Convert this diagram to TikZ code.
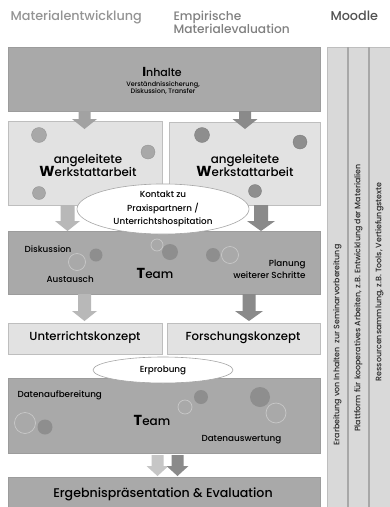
\documentclass[tikz,border=0pt]{standalone}
\usepackage{fontspec}
\setmainfont{Poppins}[UprightFont=* Medium, BoldFont=* Bold]
\usetikzlibrary{shapes.geometric}
\definecolor{boxdark}{HTML}{A9A9A9}
\definecolor{boxdarkline}{HTML}{9C9C9C}
\definecolor{boxlight}{HTML}{E2E2E2}
\definecolor{boxlightline}{HTML}{BEBEBE}
\definecolor{arrlight}{HTML}{B8B8B8}
\definecolor{arrmid}{HTML}{A2A2A2}
\definecolor{arrdark}{HTML}{8A8A8A}
\definecolor{circmid}{HTML}{A8A8A8}
\definecolor{circdark}{HTML}{8E8E8E}
\definecolor{circline}{HTML}{C8C8C8}
\definecolor{moodlefill}{HTML}{D9D9D9}
\definecolor{moodleline}{HTML}{A8A8A8}
\tikzset{
  darkbox/.style={fill=boxdark, draw=boxdarkline, line width=0.8pt},
  lightbox/.style={fill=boxlight, draw=boxlightline, line width=0.8pt},
  ovalbox/.style={ellipse, fill=white, draw=gray!70, line width=0.6pt, inner sep=0pt},
  hdr/.style={font=\fontsize{12.8}{14}\selectfont, align=left, anchor=west},
  small/.style={font=\fontsize{8.8}{11}\selectfont},
  strip/.style={rotate=90, font=\fontsize{7.9}{10}\selectfont, text=black!85},
  konz/.style={font=\fontsize{11.7}{13}\selectfont},
}
\newcommand\dnarrow[6]{% x, ytop, ybot, shaft half, head half, colour
  \fill[#6] (#1-#4,#2) -- (#1+#4,#2) -- (#1+#4,#3-10) -- (#1+#5,#3-10) -- (#1,#3)
    -- (#1-#5,#3-10) -- (#1-#4,#3-10) -- cycle;}
\begin{document}
\begin{tikzpicture}[x=1pt,y=-1pt]
\useasboundingbox (0,0) rectangle (390,507);
\fill[white] (0,0) rectangle (390,507);
% headers
\node[hdr, text=black!42] (h1) at (7,17) {Materialentwicklung};
\node[hdr, text=black!50, align=left, font=\fontsize{12.2}{12.8}\selectfont] (h2) at (170,22) {Empirische\\Materialevaluation};
\node[hdr, text=black!68] (h3) at (327,16) {Moodle};
% Moodle column
\fill[moodlefill] (327,47) rectangle (390,507);
\draw[boxlightline, line width=0.8pt] (327.4,507) -- (327.4,47.4) -- (390,47.4);
\draw[moodleline, line width=1.4pt] (348,47) -- (348,507);
\draw[moodleline, line width=1.4pt] (369,47) -- (369,507);
\node[strip] (m1) at (337.5,345) {Erarbeitung von Inhalten\ \ zur Seminarvorbereitung};
\node[strip] (m2) at (358.5,298) {Plattform für kooperatives Arbeiten, z.B. Entwicklung der Materialien};
\node[strip] (m3) at (379.5,282) {Ressourcensammlung, z.B. Tools, Vertiefungstexte};
% Inhalte
\draw[darkbox] (8,47) rectangle (320,111);
\node[font=\fontsize{11}{13}\selectfont] (inh) at (162,72) {\textbf{\fontsize{13}{13}\selectfont I}nhalte};
\node[align=center, font=\fontsize{6.5}{7.6}\selectfont] (inhsub) at (163,88) {Verständnissicherung,\\Diskussion, Transfer};
% Werkstatt boxes
\draw[lightbox] (8,121) rectangle (162,205);
\draw[lightbox] (169,122) rectangle (320,205);
\fill[circmid, draw=circmid!85!black, line width=0.3pt] (39,135) circle (7.5);
\fill[circmid, draw=circmid!85!black, line width=0.3pt] (148,152) circle (7);
\fill[circmid, draw=circmid!85!black, line width=0.3pt] (39,193) circle (6.5);
\fill[circdark, draw=circdark!85!black, line width=0.3pt] (202,135) circle (7.5);
\fill[circdark, draw=circdark!85!black, line width=0.3pt] (300,142) circle (7);
\fill[circdark, draw=circdark!85!black, line width=0.3pt] (255,191) circle (6.5);
\node[font=\fontsize{11.9}{14}\selectfont, align=center] (wl) at (88,165) {angeleitete\\[-1pt]\textbf{\fontsize{14.5}{14}\selectfont W}erkstattarbeit};
\node[font=\fontsize{11.9}{14}\selectfont, align=center] (wr) at (245,165) {angeleitete\\[-1pt]\textbf{\fontsize{14.5}{14}\selectfont W}erkstattarbeit};
% arrows from Inhalte
\dnarrow{84.5}{111}{129}{6}{12.5}{arrmid}
\dnarrow{245}{111}{129}{6}{12.5}{arrdark}
% Team 1
\draw[darkbox] (8,231) rectangle (320,294);
% arrows below Werkstatt
\dnarrow{67.5}{205}{231}{7}{12.5}{arrlight}
\dnarrow{261}{205}{231}{7}{14}{arrdark}
\draw[circline, line width=0.7pt] (77,262) circle (8.5);
\fill[circdark] (96,255) circle (6.5);
\draw[circline, line width=0.7pt] (157,245) circle (6);
\fill[circdark] (170,252) circle (8);
\fill[circdark] (213,255) circle (7);
\draw[circline, line width=0.7pt] (230,255) circle (8.5);
% Kontakt ellipse (on top)
\node[ovalbox, minimum width=172pt, minimum height=38pt, align=center, font=\fontsize{8.8}{13.3}\selectfont] (kon) at (163,209) {Kontakt zu\\Praxispartnern /\\Unterrichtshospitation};
\node[small, anchor=west] (dis) at (21,249) {Diskussion};
\node[small, anchor=west] (aus) at (43,279) {Austausch};
\node[font=\fontsize{12}{14}\selectfont] (team1) at (155,273) {\textbf{\fontsize{14.5}{15}\selectfont T}eam};
\node[small, align=right, anchor=east, font=\fontsize{8.8}{12}\selectfont] (plan) at (309,269) {Planung\\weiterer Schritte};
% Konzepte
\draw[lightbox] (8,323) rectangle (162,354);
\draw[lightbox] (167,323) rectangle (320,354);
\node[konz] (uk) at (85,338) {Unterrichtskonzept};
\node[konz] (fk) at (243,338) {Forschungskonzept};
% arrows below team 1
\dnarrow{84.5}{294}{321}{6.5}{12.5}{arrlight}
\dnarrow{249}{294}{321}{6.5}{14}{arrdark}
% Team 2
\draw[darkbox] (8,378) rectangle (320,453);
\node[ovalbox, minimum width=140pt, minimum height=26pt, font=\fontsize{8.8}{10}\selectfont] (erp) at (163,370) {Erprobung};
\draw[circline, line width=0.7pt] (25,423) circle (10.5);
\fill[circdark] (45,427) circle (7.5);
\draw[circline, line width=0.7pt] (185,407) circle (7);
\fill[circdark] (201,397) circle (7);
\fill[circdark] (260,397) circle (10);
\draw[circline, line width=0.7pt] (276,413) circle (10);
\node[small, anchor=west] (dat1) at (14,395) {Datenaufbereitung};
\node[font=\fontsize{12}{14}\selectfont] (team2) at (152,420) {\textbf{\fontsize{14.5}{15}\selectfont T}eam};
\node[small, anchor=west] (dat2) at (198,440) {Datenauswertung};
% Ergebnis
\draw[darkbox] (8,477) rectangle (320,510);
\node[font=\fontsize{12.6}{14}\selectfont] (erg) at (163,494) {Ergebnispräsentation \& Evaluation};
% final arrows
\dnarrow{157.5}{455}{476}{6}{11}{arrlight!80!white}
\dnarrow{177.5}{455}{476}{6}{11}{arrdark}
\end{tikzpicture}
\end{document}
